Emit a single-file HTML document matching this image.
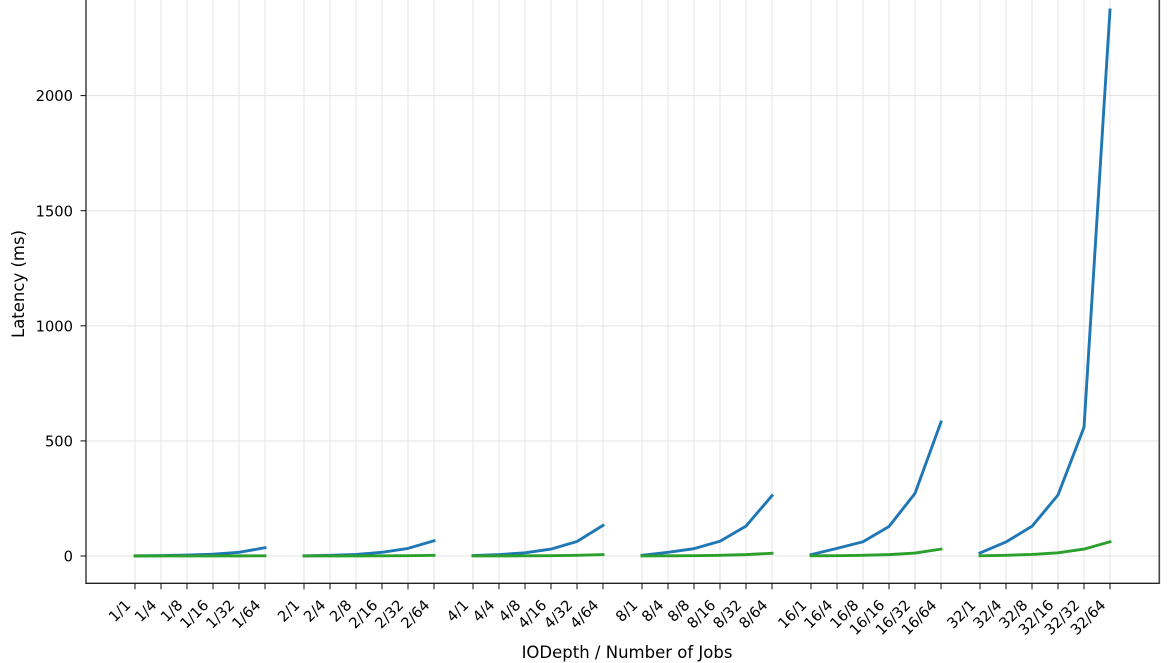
<!DOCTYPE html>
<html>
<head>
<meta charset="utf-8">
<style>
html,body{margin:0;padding:0;background:#fff;}
svg{display:block;}
text{font-family:"DejaVu Sans","Liberation Sans",sans-serif;fill:#000;}
</style>
</head>
<body>
<svg width="1170" height="663" viewBox="0 0 1170 663" xmlns="http://www.w3.org/2000/svg">
<rect x="0" y="0" width="1170" height="663" fill="#fff"/>
<g id="grid" stroke="#e6e6e6" stroke-width="1.1">
</g>
<g id="lines"></g>
<g id="axes"></g>
<g id="labels"></g>
<text x="24" y="284" font-size="16.5" text-anchor="middle" transform="rotate(-90 24 284)">Latency (ms)</text>
<text x="627" y="658" font-size="16.5" text-anchor="middle">IODepth / Number of Jobs</text>
<script>
(function(){
var NS="http://www.w3.org/2000/svg";
function el(t,a,p){var e=document.createElementNS(NS,t);for(var k in a)e.setAttribute(k,a[k]);if(p)p.appendChild(e);return e;}
var grid=document.getElementById('grid'),lines=document.getElementById('lines'),axes=document.getElementById('axes'),labels=document.getElementById('labels');
var L=86,R=1159.3,B=583.3,T=-17;
function Y(v){return 556-v*0.23022;}
var groups=[1,2,4,8,16,32],jobs=[1,4,8,16,32,64];
var xs=[],names=[];
for(var g=0;g<6;g++)for(var j=0;j<6;j++){xs.push(135+26*(g*6.5+j));names.push(groups[g]+'/'+jobs[j]);}
xs.forEach(function(x){el('line',{x1:x,y1:T,x2:x,y2:B,stroke:'#e6e6e6','stroke-width':1.1},grid);});
[0,500,1000,1500,2000].forEach(function(v){var y=Y(v);el('line',{x1:L,y1:y,x2:R,y2:y,stroke:'#e6e6e6','stroke-width':1.1},grid);
 el('line',{x1:L-5.5,y1:y,x2:L,y2:y,stroke:'#222','stroke-width':1.1},axes);
 var t=el('text',{x:73,y:y+5.6,'font-size':14.7,'text-anchor':'end'},labels);t.textContent=String(v);});
var blue=[[0.5,2,4,8,16,36],[1,3,7,16,33,66],[2,6,14,30,63,133],[3,16,32,64,130,262],[6,33,62,128,272,582],[13,61,129,265,559,2372]];
var green=[[0.05,0.1,0.2,0.3,0.5,0.8],[0.1,0.2,0.4,0.8,1.5,3],[0.2,0.4,0.8,1.5,3,6],[0.4,0.8,1.5,3,6,12],[0.8,1.5,3,6,13,30],[1,3,7,14,30,62]];
function draw(data,color){
 for(var g=0;g<6;g++){var pts=[];for(var j=0;j<6;j++){pts.push(xs[g*6+j].toFixed(2)+','+Y(data[g][j]).toFixed(2));}
 el('polyline',{points:pts.join(' '),fill:'none',stroke:color,'stroke-width':2.9,'stroke-linejoin':'round','stroke-linecap':'square'},lines);}
}
draw(blue,'#1f77b4');
draw(green,'#2ca02c');
el('line',{x1:L,y1:T,x2:L,y2:B+0.6,stroke:'#222','stroke-width':1.3},axes);
el('line',{x1:L-0.6,y1:B,x2:R+0.6,y2:B,stroke:'#222','stroke-width':1.3},axes);
el('line',{x1:R,y1:T,x2:R,y2:B+0.6,stroke:'#444','stroke-width':1.6},axes);
xs.forEach(function(x,i){el('line',{x1:x,y1:B,x2:x,y2:B+6,stroke:'#222','stroke-width':1.1},axes);
 var ax=x-3.5,ay=606;
 var t=el('text',{x:ax,y:ay,'font-size':14.7,'text-anchor':'end',transform:'rotate(-45 '+ax+' '+ay+')'},labels);t.textContent=names[i];});
})();
</script>
</svg>
</body>
</html>
